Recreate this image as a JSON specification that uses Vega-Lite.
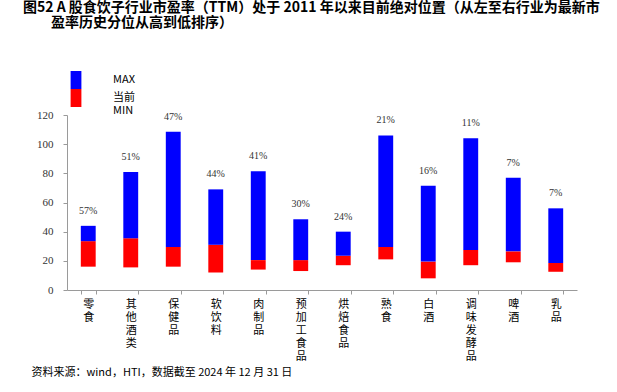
{
  "$schema": "https://vega.github.io/schema/vega-lite/v6.json",
  "width": 510,
  "height": 175,
  "autosize": {"type": "none"},
  "padding": {"left": 67, "top": 115, "right": 40, "bottom": 102},
  "background": "white",
  "title": {
    "text": ["图52 A 股食饮子行业市盈率（TTM）处于 2011 年以来目前绝对位置（从左至右行业为最新市", "\u200B\u3000\u3000盈率历史分位从高到低排序）"],
    "anchor": "start",
    "frame": "group",
    "dx": -44,
    "offset": 41,
    "font": "Noto Sans CJK SC",
    "fontSize": 14,
    "fontWeight": "bold",
    "lineHeight": 15.5,
    "color": "#000000"
  },
  "data": {
    "values": [
      {"cat": "零食", "min": 16, "cur": 33.5, "max": 44, "pct": "57%"},
      {"cat": "其他酒类", "min": 15.5, "cur": 35.5, "max": 81, "pct": "51%"},
      {"cat": "保健品", "min": 16, "cur": 29.5, "max": 108.5, "pct": "47%"},
      {"cat": "软饮料", "min": 12, "cur": 31, "max": 69, "pct": "44%"},
      {"cat": "肉制品", "min": 14, "cur": 20.5, "max": 81.5, "pct": "41%"},
      {"cat": "预加工食品", "min": 13, "cur": 20.5, "max": 48.5, "pct": "30%"},
      {"cat": "烘焙食品", "min": 17, "cur": 23.5, "max": 40, "pct": "24%"},
      {"cat": "熟食", "min": 21, "cur": 29.5, "max": 106, "pct": "21%"},
      {"cat": "白酒", "min": 8, "cur": 19.5, "max": 71.5, "pct": "16%"},
      {"cat": "调味发酵品", "min": 17, "cur": 27.5, "max": 104, "pct": "11%"},
      {"cat": "啤酒", "min": 19, "cur": 26.5, "max": 77, "pct": "7%"},
      {"cat": "乳品", "min": 12.5, "cur": 18.5, "max": 56, "pct": "7%"}
    ]
  },
  "encoding": {
    "x": {
      "field": "cat",
      "type": "nominal",
      "sort": null,
      "scale": {"paddingInner": 0.65, "paddingOuter": 0.325},
      "axis": {
        "title": "资料来源：wind，HTI，数据截至 2024 年 12 月 31 日",
        "titleAnchor": "start",
        "titleAlign": "left",
        "titleX": -36,
        "titleY": 82,
        "titleBaseline": "middle",
        "titleFont": "Noto Sans CJK SC",
        "titleFontSize": 11,
        "titleFontWeight": "normal",
        "titleColor": "#000000",
        "labelAngle": 0,
        "labelExpr": "split(datum.label, '')",
        "labelLineHeight": 13,
        "labelFont": "Noto Sans CJK SC",
        "labelFontSize": 11,
        "labelColor": "#000000",
        "labelPadding": 4,
        "labelBaseline": "top",
        "labelOverlap": false,
        "tickBand": "extent",
        "tickSize": 4,
        "tickColor": "#9a9a9a",
        "domainColor": "#9a9a9a"
      }
    }
  },
  "layer": [
    {
      "mark": {"type": "bar"},
      "encoding": {
        "y": {
          "field": "min",
          "type": "quantitative",
          "scale": {"domain": [0, 120], "nice": false},
          "axis": {
            "title": null,
            "values": [0, 20, 40, 60, 80, 100, 120],
            "labelOverlap": false,
            "grid": false,
            "labelFont": "Liberation Serif",
            "labelFontSize": 11,
            "labelColor": "#333333",
            "labelPadding": 10,
            "tickSize": 4,
            "tickColor": "#9a9a9a",
            "domainColor": "#9a9a9a"
          }
        },
        "y2": {"field": "cur"},
        "color": {
          "datum": "当前",
          "type": "nominal",
          "scale": {"domain": ["MAX", "当前"], "range": ["#0000FF", "#FF0000"]},
          "legend": {
            "title": null,
            "orient": "none",
            "legendX": 0,
            "legendY": -44,
            "symbolType": "M-0.6,-1H0.6V1H-0.6Z",
            "symbolSize": 324,
            "symbolStrokeWidth": 0,
            "rowPadding": 0,
            "labelExpr": "datum.label == '当前' ? ['当前', 'MIN'] : datum.label",
            "labelLineHeight": 15,
            "labelFont": "Noto Sans CJK SC",
            "labelFontSize": 11,
            "labelColor": "#000000",
            "labelOffset": 28
          }
        }
      }
    },
    {
      "mark": {"type": "bar"},
      "encoding": {
        "y": {
          "field": "cur",
          "type": "quantitative",
          "axis": {
            "title": null,
            "values": [0, 20, 40, 60, 80, 100, 120],
            "labelOverlap": false,
            "grid": false,
            "labelFont": "Liberation Serif",
            "labelFontSize": 11,
            "labelColor": "#333333",
            "labelPadding": 10,
            "tickSize": 4,
            "tickColor": "#9a9a9a",
            "domainColor": "#9a9a9a"
          }
        },
        "y2": {"field": "max"},
        "color": {"datum": "MAX", "type": "nominal"}
      }
    },
    {
      "mark": {"type": "text", "dy": -15, "font": "Liberation Serif", "fontSize": 10, "color": "#333333"},
      "encoding": {
        "y": {
          "field": "max",
          "type": "quantitative",
          "axis": {
            "title": null,
            "values": [0, 20, 40, 60, 80, 100, 120],
            "labelOverlap": false,
            "grid": false,
            "labelFont": "Liberation Serif",
            "labelFontSize": 11,
            "labelColor": "#333333",
            "labelPadding": 10,
            "tickSize": 4,
            "tickColor": "#9a9a9a",
            "domainColor": "#9a9a9a"
          }
        },
        "text": {"field": "pct"}
      }
    }
  ],
  "config": {"view": {"stroke": null}}
}
